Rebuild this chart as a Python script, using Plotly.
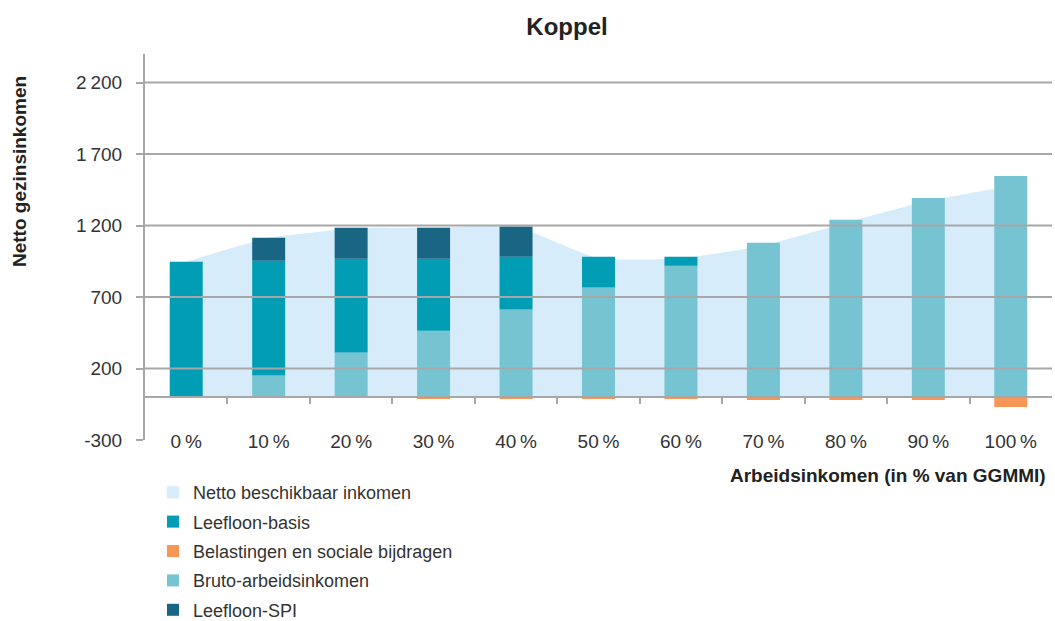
import plotly.graph_objects as go

# ---- data ----
categories = ["0\u2009%", "10\u2009%", "20\u2009%", "30\u2009%", "40\u2009%", "50\u2009%",
              "60\u2009%", "70\u2009%", "80\u2009%", "90\u2009%", "100\u2009%"]
bruto = [0, 151, 312, 465, 612, 766, 919, 1080, 1240, 1393, 1547]
leefloon_basis = [947, 803, 656, 503, 370, 216, 63, 0, 0, 0, 0]
leefloon_spi = [0, 160, 216, 216, 211, 0, 0, 0, 0, 0, 0]
belastingen = [0, 0, 0, -12, -12, -14, -14, -21, -21, -21, -70]
netto = [947, 1114, 1180, 1186, 1192, 970, 970, 1060, 1220, 1373, 1477]

y_tickvals = [-300, 200, 700, 1200, 1700, 2200]
y_ticktext = ["-300", "200", "700", "1\u2009200", "1\u2009700", "2\u2009200"]
grid_vals = [200, 700, 1200, 1700, 2200]

idx = list(range(len(categories)))

C_NET = "#D6ECFA"
C_BASIS = "#009DB5"
C_TAX = "#F59657"
C_BRUTO = "#76C3D1"
C_SPI = "#186684"
GRAY = "#A7A7AA"
TXT = "#333333"
FONT = "Liberation Sans, Arial, sans-serif"

W, H = 1055, 621
L, R, T, B = 145, 3, 54, 181
PW, PH = W - L - R, H - T - B

fig = go.Figure()

# area (behind bars, on main x)
fig.add_trace(go.Scatter(
    x=idx, y=netto, xaxis="x", yaxis="y", mode="lines", fill="tozeroy",
    fillcolor=C_NET, line=dict(width=0, shape="spline", smoothing=0.4, color=C_NET),
    showlegend=False, hoverinfo="skip"))

# legend swatch for the area
fig.add_trace(go.Bar(x=[None], y=[None], xaxis="x2", name="Netto beschikbaar inkomen",
                     marker_color=C_NET, legendrank=1, legendgroup="a"))

bar_w = 0.4
fig.add_trace(go.Bar(x=idx, y=bruto, xaxis="x2", name="Bruto-arbeidsinkomen",
                     marker=dict(color=C_BRUTO, line_width=0), width=bar_w,
                     legendrank=4, legendgroup="d"))
fig.add_trace(go.Bar(x=idx, y=leefloon_basis, xaxis="x2", name="Leefloon-basis",
                     marker=dict(color=C_BASIS, line_width=0), width=bar_w,
                     legendrank=2, legendgroup="b"))
fig.add_trace(go.Bar(x=idx, y=leefloon_spi, xaxis="x2", name="Leefloon-SPI",
                     marker=dict(color=C_SPI, line_width=0), width=bar_w,
                     legendrank=5, legendgroup="e"))
fig.add_trace(go.Bar(x=idx, y=belastingen, xaxis="x2", name="Belastingen en sociale bijdragen",
                     marker=dict(color=C_TAX, line_width=0), width=bar_w,
                     legendrank=3, legendgroup="c"))

ymin, ymax = -300, 2400
zero_pos = (0 - ymin) / (ymax - ymin)

shapes = []
for v in grid_vals:
    shapes.append(dict(type="line", xref="paper", x0=0, x1=1, yref="y", y0=v, y1=v,
                       line=dict(color=GRAY, width=2), layer="above"))

fig.update_layout(
    width=W, height=H,
    margin=dict(l=L, r=R, t=T, b=B, autoexpand=False),
    paper_bgcolor="white", plot_bgcolor="white",
    barmode="relative", bargap=0.6,
    font=dict(family=FONT, size=19, color=TXT),
    title=dict(text="<b>Koppel</b>", font=dict(size=24, color="#222222", family=FONT),
               xref="container", x=567 / W, xanchor="center",
               yref="container", y=1 - 27 / H, yanchor="middle"),
    xaxis=dict(range=[-0.5, len(categories) - 0.5], tickvals=idx, ticktext=categories,
               showgrid=False, zeroline=False, showline=False, ticks="",
               anchor="free", position=0.03, tickfont=dict(size=19, color=TXT)),
    xaxis2=dict(range=[-0.5, len(categories) - 0.5], overlaying="x",
                tickvals=[i + 0.5 for i in idx[:-1]], showticklabels=False,
                showgrid=False, zeroline=False, showline=True, linecolor=GRAY, linewidth=2,
                ticks="outside", ticklen=6, tickwidth=2, tickcolor=GRAY,
                anchor="free", position=zero_pos, layer="above traces"),
    yaxis=dict(range=[ymin, ymax], tickvals=y_tickvals, ticktext=y_ticktext,
               showgrid=False, zeroline=False, showline=True, linecolor=GRAY, linewidth=2,
               ticks="outside", ticklen=7, tickwidth=2, tickcolor=GRAY,
               ticklabelstandoff=10, tickfont=dict(size=19, color=TXT)),
    legend=dict(xref="container", yref="container", x=153 / W, y=1 - 474 / H,
                xanchor="left", yanchor="top", orientation="v",
                font=dict(size=18, color=TXT), tracegroupgap=3, bgcolor="rgba(0,0,0,0)",
                traceorder="grouped"),
    shapes=shapes,
    annotations=[
        dict(text="<b>Arbeidsinkomen (in % van GGMMI)</b>", xref="paper", yref="paper",
             x=(1048 - L) / PW, y=(440 - 476) / PH, xanchor="right", yanchor="middle",
             showarrow=False, font=dict(size=19, color="#222222")),
        dict(text="<b>Netto gezinsinkomen</b>", xref="paper", yref="paper",
             x=(19 - L) / PW, y=(440 - 172) / PH, xanchor="center", yanchor="middle",
             textangle=-90, showarrow=False, font=dict(size=19, color="#222222")),
    ],
)

fig.write_html("out.html", config={"displayModeBar": False},
               post_script="document.body.style.margin='0';")
